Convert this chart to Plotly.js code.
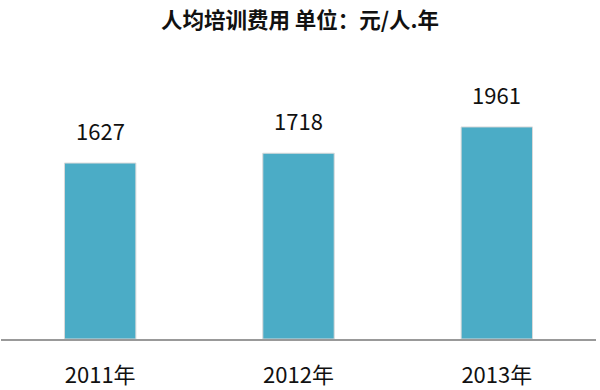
<!DOCTYPE html>
<html>
<head>
<meta charset="utf-8">
<script src="https://cdn.plot.ly/plotly-3.0.1.min.js"></script>
<style>html,body{margin:0;padding:0;background:#fff;}#chart{width:600px;height:390px;}</style>
</head>
<body>
<div id="chart"></div>
<script>
var categories = ["2011年", "2012年", "2013年"];
var values = [1627, 1718, 1961];

var font = "Noto Sans CJK SC, Microsoft YaHei, sans-serif";

var annotations = categories.map(function(c, i) {
  return {
    x: c, y: values[i], xref: "x", yref: "y",
    text: String(values[i]), showarrow: false,
    yanchor: "bottom", yshift: 15,
    font: {family: font, size: 22, color: "#111"}
  };
});

var trace = {
  type: "bar",
  x: categories,
  y: values,
  width: 0.36,
  marker: {color: "#4BACC6", line: {color: "#d9d9d9", width: 1}},
  hoverinfo: "none"
};

var layout = {
  width: 600, height: 390,
  margin: {l: 1, r: 4, t: 60, b: 51},
  paper_bgcolor: "#fff", plot_bgcolor: "#fff",
  title: {text: "<b>人均培训费用 单位：元/人.年</b>", x: 0.5, xanchor: "center", y: 0.948, yanchor: "middle",
          font: {family: font, size: 21.5, color: "#111"}},
  xaxis: {
    showline: true, linecolor: "#999", linewidth: 1.5,
    ticks: "", showgrid: false, zeroline: false,
    tickfont: {family: font, size: 22, color: "#111"},
    ticklabelstandoff: 16
  },
  yaxis: {range: [0, 2580], visible: false, showgrid: false, zeroline: false},
  annotations: annotations,
  showlegend: false
};

Plotly.newPlot("chart", [trace], layout, {displayModeBar: false, staticPlot: true});
</script>
</body>
</html>
